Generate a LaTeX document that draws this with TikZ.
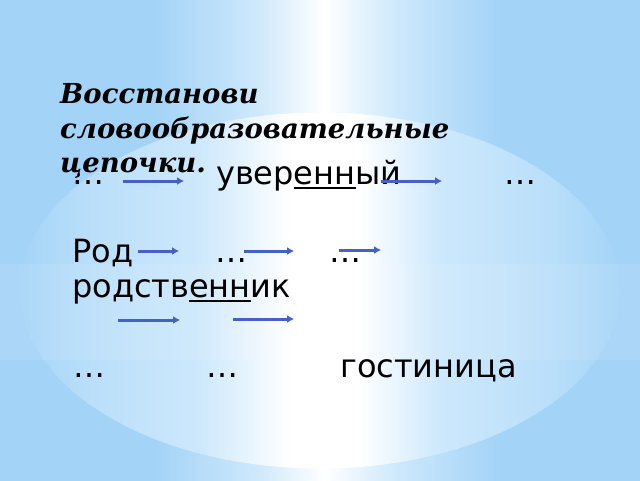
\documentclass[tikz,border=0pt]{standalone}
\usepackage{fontspec}
\usetikzlibrary{arrows.meta}
\newfontfamily\bodyfont{DejaVu Sans}
\newfontfamily\titlefont{DejaVu Serif}
\definecolor{bgblue}{RGB}{163,211,247}
\definecolor{midblue}{RGB}{205,232,252}
\definecolor{ellblue}{RGB}{164,212,247}
\definecolor{ellmid}{RGB}{186,223,250}
\definecolor{arrowblue}{RGB}{70,96,200}
\pgfdeclarehorizontalshading{bgshade}{100bp}{color(0bp)=(bgblue); color(25bp)=(bgblue); color(37bp)=(bgblue); color(45bp)=(midblue); color(50.4bp)=(white); color(56bp)=(midblue); color(64bp)=(bgblue); color(75bp)=(bgblue); color(100bp)=(bgblue)}
\pgfdeclarehorizontalshading{ellshade}{100bp}{color(0bp)=(ellblue); color(25bp)=(ellblue); color(31bp)=(ellmid); color(40bp)=(midblue); color(47.5bp)=(white); color(53.3bp)=(white); color(60bp)=(midblue); color(69bp)=(ellmid); color(75bp)=(ellblue); color(100bp)=(ellblue)}
\newcommand\myul[1]{\setbox0\hbox{#1}\rlap{\rule[-5pt]{\wd0}{1.8pt}}\box0}
\tikzset{
  body/.style={anchor=base west, inner sep=0pt, font=\bodyfont\fontsize{32}{38}\selectfont, text=black},
  ttl/.style={anchor=base west, inner sep=0pt, font=\titlefont\bfseries\itshape\fontsize{27.5}{34}\selectfont, text=black},
  chainarrow/.style={line width=3pt, draw=arrowblue, -{Latex[length=7pt,width=8pt]}},
  chainshadow/.style={line width=3pt, draw=gray, opacity=0.3, -{Latex[length=7pt,width=8pt]}, shift={(0.6,1.6)}}
}
\begin{document}
\begin{tikzpicture}[x=1pt,y=-1pt]
\useasboundingbox (0,0) rectangle (640,480);
\shade[shading=bgshade] (0,0) rectangle (640,480);
\shade[shading=ellshade] (320,290.5) ellipse [x radius=300pt, y radius=178pt];
\fill[white, opacity=0.09] (0,264) rectangle (640,360);
% title
\node[ttl] (t1) at (60,103) {Восстанови};
\node[ttl] (t2) at (60,138) {словообразовательные};
\node[ttl] (t3) at (60,172) {цепочки.};
% row 1
\node[body] (r1a) at (72,184) {…};
\node[body] (r1b) at (216,184) {увер\myul{енн}ый};
\node[body] (r1c) at (504,184) {…};
% row 2
\node[body] (r2a) at (72,262) {Род};
\node[body] (r2b) at (215,262) {…};
\node[body] (r2c) at (329,262) {…};
% row 3
\node[body] (r3a) at (72,297) {родств\myul{енн}ик};
% row 4
\node[body] (r4a) at (73,377) {…};
\node[body] (r4b) at (206,377) {…};
\node[body] (r4c) at (340,377) {гостиница};
% arrow coordinates
\coordinate (a1s) at (123,181); \coordinate (a1e) at (184,181);
\coordinate (a2s) at (381,181); \coordinate (a2e) at (442,181);
\coordinate (a3s) at (138,251); \coordinate (a3e) at (179,251);
\coordinate (a4s) at (244,251); \coordinate (a4e) at (294,251);
\coordinate (a5s) at (339,250); \coordinate (a5e) at (381,250);
\coordinate (a6s) at (118,320); \coordinate (a6e) at (180,320);
\coordinate (a7s) at (233,319); \coordinate (a7e) at (294,319);
\foreach \p in {1,...,7}{
  \draw[chainshadow] (a\p s) -- (a\p e);
  \draw[chainarrow] (a\p s) -- (a\p e);
}
\end{tikzpicture}
\end{document}
